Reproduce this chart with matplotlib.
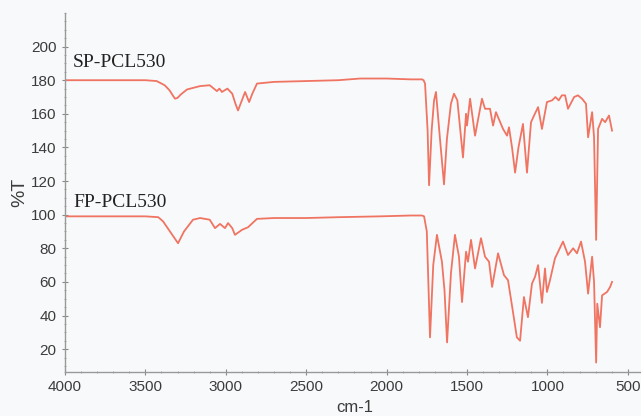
import matplotlib
matplotlib.use("Agg")
import matplotlib.pyplot as plt
from matplotlib.ticker import MultipleLocator

# SP-PCL530 spectrum (wavenumber, %T)
sp_wn = [4000, 3700, 3500, 3430, 3380, 3350, 3330, 3316, 3300, 3280,
         3241, 3160, 3100, 3055, 3040, 3024, 2990, 2960, 2940, 2924,
         2900, 2880, 2855, 2835, 2806, 2700, 2500, 2300, 2165, 2000,
         1850, 1780, 1770, 1761, 1745, 1736, 1720, 1705, 1693, 1668,
         1643, 1625, 1600, 1581, 1560, 1525, 1506, 1500, 1481, 1450,
         1407, 1388, 1357, 1338, 1320, 1276, 1251, 1239, 1220, 1201,
         1180, 1152, 1127, 1102, 1083, 1058, 1034, 1003, 971, 950,
         930, 910, 890, 872, 834, 810, 785, 760, 747, 722,
         710, 697, 685, 660, 641, 617, 598]
sp_t = [180, 180, 180, 179.5, 177, 174, 171, 169, 169.5, 171.5,
        174.5, 176.5, 177, 173.5, 175, 173, 175, 172, 166, 162,
        168, 173, 167, 172, 178, 179, 179.5, 180, 181, 181,
        180.5, 180.5, 180, 178, 150, 117.5, 150, 168, 173, 145,
        118, 145, 166, 172, 168, 134, 160, 153, 169, 147,
        169, 163, 163, 153, 161, 151, 147, 152, 140, 125,
        140, 154, 125, 155, 159, 164, 151, 167, 168, 170,
        168, 171, 171, 163, 170, 171, 169, 166, 146, 161,
        146, 85, 151, 157, 155, 159, 150]

# FP-PCL530 spectrum
fp_wn = [4000, 3700, 3500, 3420, 3390, 3340, 3297, 3260, 3204, 3160,
         3100, 3067, 3036, 3005, 2986, 2960, 2943, 2899, 2862, 2806,
         2700, 2500, 2300, 2041, 1850, 1780, 1767, 1750, 1730, 1710,
         1687, 1656, 1640, 1624, 1600, 1575, 1550, 1531, 1506, 1494,
         1475, 1450, 1413, 1388, 1363, 1344, 1307, 1270, 1245, 1214,
         1190, 1170, 1146, 1121, 1096, 1077, 1058, 1034, 1015, 1003,
         984, 953, 903, 872, 840, 816, 791, 766, 747, 722,
         710, 697, 690, 673, 660, 629, 610, 598]
fp_t = [99, 99, 99, 98.5, 96, 89, 83, 90, 97, 98,
        97, 92, 94.5, 92, 95, 92, 88, 91, 92.5, 97.5,
        98, 98, 98.5, 99, 99.5, 99.5, 99, 90, 27, 70,
        88, 72, 55, 24, 65, 88, 75, 48, 78, 72,
        85, 68, 86, 75, 72, 57, 77, 64, 61, 42,
        27, 25, 51, 39, 59, 63, 70, 47.5, 68, 54,
        61, 74, 84, 76, 80, 77, 84, 72, 53, 75,
        60, 12, 47, 33, 52, 54, 57, 60]

labels = ["SP-PCL530", "FP-PCL530"]
label_pos = [(3950, 190.5), (3950, 107.5)]

bg = "#f8f9fb"
line_color = "#f07462"

fig = plt.figure(figsize=(6.41, 4.16), dpi=100, facecolor=bg)
ax = fig.add_axes([0.1014, 0.1058, 0.8986, 0.863], facecolor=bg)

ax.plot(sp_wn, sp_t, color=line_color, lw=1.3)
ax.plot(fp_wn, fp_t, color=line_color, lw=1.3)

for text, (x, y) in zip(labels, label_pos):
    ax.text(x, y, text, fontsize=14, family="Liberation Serif", color="#222222",
            ha="left", va="center")

ax.set_xlim(4000, 418)
ax.set_ylim(6.4, 220)
ax.xaxis.set_major_locator(MultipleLocator(500))
ax.xaxis.set_minor_locator(MultipleLocator(100))
ax.yaxis.set_minor_locator(MultipleLocator(5))
ax.set_yticks(range(20, 201, 20))

for side in ["top", "right"]:
    ax.spines[side].set_visible(False)
for side in ["left", "bottom"]:
    ax.spines[side].set_color("#999999")
    ax.spines[side].set_linewidth(1.0)

ax.tick_params(which="major", direction="inout", length=4, width=0.8, color="#888888",
               labelsize=11, labelcolor="#3c3c3c", pad=4)
ax.tick_params(which="minor", direction="inout", length=2, width=0.6, color="#999999")
for lab in ax.get_xticklabels() + ax.get_yticklabels():
    lab.set_family("Liberation Sans")

fig.text(20 / 641, 1 - 192 / 416, "%T", rotation=90, fontsize=14, color="#3c3c3c",
         family="Liberation Sans", ha="center", va="center")
fig.text(355 / 641, 1 - 407 / 416, "cm-1", fontsize=12, color="#3c3c3c",
         family="Liberation Sans", ha="center", va="center")

fig.savefig("out.png", dpi=100, facecolor=bg)
